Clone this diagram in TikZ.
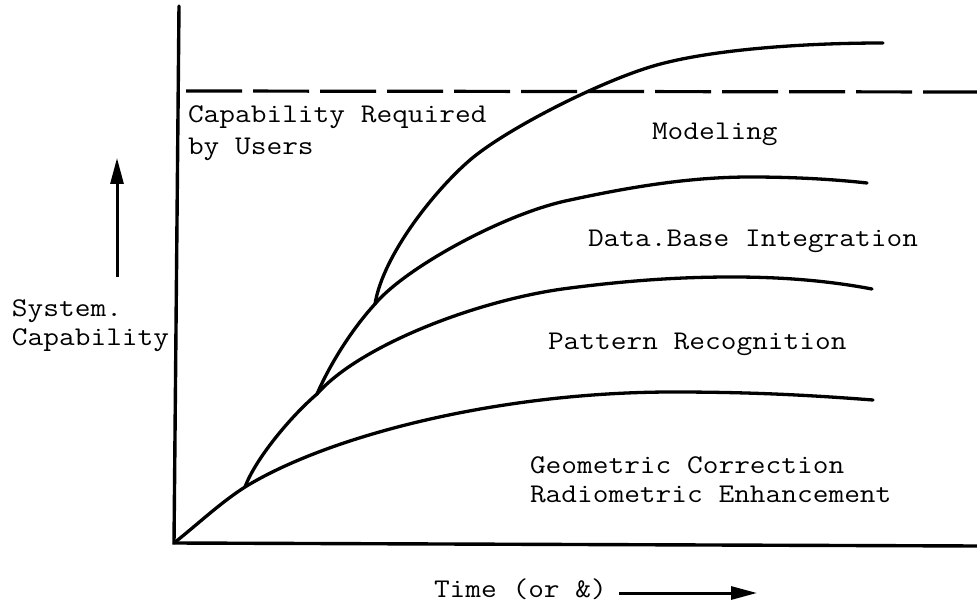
\documentclass[tikz,border=0pt]{standalone}
\usepackage{fontspec}
\usepackage{graphicx}
\usetikzlibrary{arrows.meta}
% typewriter lettering, widened to a 16pt pitch and inked a little heavier
\newcommand\typed[1]{\scalebox{1.13}[1]{\fontsize{27}{30}\selectfont\ttfamily\addfontfeatures{FakeBold=0.9}#1}}
\tikzset{
  lbl/.style={anchor=base west, inner sep=0pt, outer sep=0pt},
  axis/.style={line width=3.4pt, line cap=round},
  growth/.style={line width=3.3pt, line cap=round, line join=round},
  req/.style={line width=3.2pt, dash pattern=on 56pt off 11pt},
  arr/.style={line width=3pt, -{Triangle[length=26pt,width=13pt]}},
}
\begin{document}
\begin{tikzpicture}[x=1pt, y=-1pt]
\useasboundingbox (0,0) rectangle (977,609);

% axes
\coordinate (ytop) at (179,6);
\coordinate (O) at (174,543);
\coordinate (xend) at (977,546);
\draw[axis] (ytop) -- (O) -- (xend);

% capability required by users
\coordinate (reqL) at (186,91);
\coordinate (reqR) at (977,92);
\draw[req] (reqL) -- (reqR);

% branching points of the successive capability curves
\coordinate (J1) at (245,487);
\coordinate (J2) at (317,394);
\coordinate (J3) at (375,304);

% geometric correction / radiometric enhancement
\draw[growth] (O) .. controls (198,524) and (220,503) .. (J1)
  .. controls (330,435) and (500,392) .. (673,392)
  .. controls (760,392) and (820,396) .. (873,400);
% pattern recognition
\draw[growth] (J1) .. controls (255,460) and (289,418) .. (J2)
  .. controls (360,345) and (480,299) .. (570,288)
  .. controls (640,279) and (690,277) .. (733,277)
  .. controls (790,277) and (835,282) .. (872,289);
% data base integration
\draw[growth] (J2) .. controls (331,362) and (353,328) .. (J3)
  .. controls (405,268) and (505,213) .. (570,200)
  .. controls (630,187) and (690,177) .. (750,177)
  .. controls (800,177) and (840,180) .. (867,183);
% modeling
\draw[growth] (J3) .. controls (383,255) and (435,190) .. (470,160)
  .. controls (505,130) and (595,84) .. (650,67)
  .. controls (705,50) and (800,43) .. (883,43);

% labels
\node[lbl] (capreq) at (188,123) {\typed{Capability Required}};
\node[lbl] (users)  at (188,155) {\typed{by Users}};
\node[lbl] (model)  at (652,140) {\typed{Modeling}};
\node[lbl] (dbase)  at (588,247) {\typed{Data.Base Integration}};
\node[lbl] (patt)   at (548,350) {\typed{Pattern Recognition}};
\node[lbl] (geo)    at (530,473) {\typed{Geometric Correction}};
\node[lbl] (radio)  at (530,502) {\typed{Radiometric Enhancement}};
\node[lbl] (sys)    at (12,317)  {\typed{System.}};
\node[lbl] (capab)  at (12,346)  {\typed{Capability}};
\node[lbl] (time)   at (434,597) {\typed{Time (or \&)}};

% direction arrows
\coordinate (upA) at (117,277);
\coordinate (upB) at (117,158);
\draw[arr] (upA) -- (upB);
\coordinate (rtA) at (619,593);
\coordinate (rtB) at (757,593);
\draw[arr] (rtA) -- (rtB);
\end{tikzpicture}
\end{document}
